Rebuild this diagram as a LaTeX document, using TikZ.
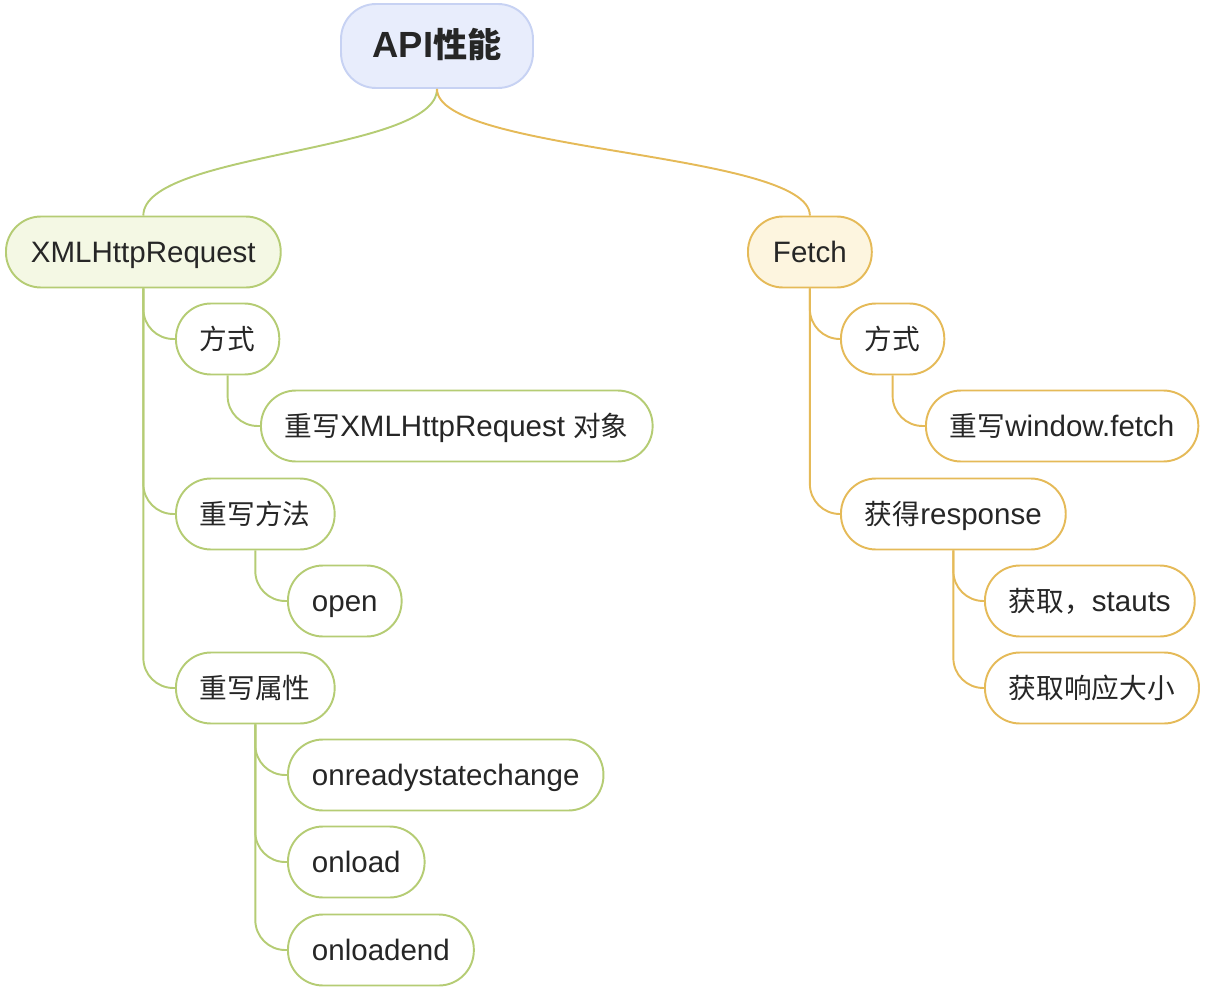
\documentclass[tikz,border=0pt]{standalone}
\usepackage{fontspec}
\setmainfont{Liberation Sans}[Scale=1.12]
\newfontfamily\cjk{Noto Sans CJK SC}[Scale=1.05]
\usepackage{xcolor}
\usepackage{tikz}
\definecolor{ink}{HTML}{262626}
\definecolor{gline}{HTML}{B5CC74}
\definecolor{gfill}{HTML}{F4F8E4}
\definecolor{oline}{HTML}{E5BA58}
\definecolor{ofill}{HTML}{FDF5DF}
\definecolor{rline}{HTML}{C7D2F3}
\definecolor{rfill}{HTML}{E8EDFC}

\begin{document}
\begin{tikzpicture}[x=0.02cm, y=-0.02cm, font=\fontsize{15}{18}\selectfont,
  nd/.style={draw=#1, line width=1.1pt, rounded corners=0.7cm, minimum height=1.42cm, inner xsep=0.48cm, text height=12pt, text depth=0.5pt, text=ink, fill=white, anchor=west},
  nd/.default=gline,
  ln/.style={draw=#1, line width=1.1pt},
  br/.style={ln=#1, rounded corners=0.6cm}]
\useasboundingbox (0,0) rectangle (1207,990);
% root
\node[nd=rline, fill=rfill, anchor=center, minimum width=3.84cm, minimum height=1.68cm, text height=14pt, font=\fontsize{18.5}{21}\selectfont\bfseries] (api) at (437,46) {API{\cjk 性能}};
% level 1
\node[nd=gline, fill=gfill, inner xsep=0.5cm] (xhr) at (5,252) {XMLHttpRequest};
\node[nd=oline, fill=ofill, inner xsep=0.5cm] (fetch) at (747,252) {Fetch};
\draw[ln=gline] (api.south) .. controls +(0,64) and +(0,-64) .. (xhr.north);
\draw[ln=oline] (api.south) .. controls +(0,64) and +(0,-64) .. (fetch.north);
% XMLHttpRequest side
\node[nd] (xway) at (175,339) {{\cjk 方式}};
\node[nd] (xobj) at (260,426) {{\cjk 重写}XMLHttpRequest {\cjk 对象}};
\node[nd] (xmeth) at (175,514) {{\cjk 重写方法}};
\node[nd] (xopen) at (287,601) {open};
\node[nd] (xattr) at (175,688) {{\cjk 重写属性}};
\node[nd] (xorsc) at (287,775) {onreadystatechange};
\node[nd] (xload) at (287,862) {onload};
\node[nd] (xlend) at (287,950) {onloadend};
% Fetch side
\node[nd=oline] (fway) at (840,339) {{\cjk 方式}};
\node[nd=oline] (fwin) at (925,426) {{\cjk 重写}window.fetch};
\node[nd=oline] (fresp) at (840,514) {{\cjk 获得}response};
\node[nd=oline] (fstat) at (984,601) {{\cjk 获取，}stauts};
\node[nd=oline] (fsize) at (984,688) {{\cjk 获取响应大小}};
% branches
\foreach \p/\c in {xhr/xway, xhr/xmeth, xhr/xattr, xway/xobj, xmeth/xopen, xattr/xorsc, xattr/xload, xattr/xlend}
  \draw[br=gline] (\p.south) |- (\c.west);
\foreach \p/\c in {fetch/fway, fetch/fresp, fway/fwin, fresp/fstat, fresp/fsize}
  \draw[br=oline] (\p.south) |- (\c.west);
\end{tikzpicture}
\end{document}
